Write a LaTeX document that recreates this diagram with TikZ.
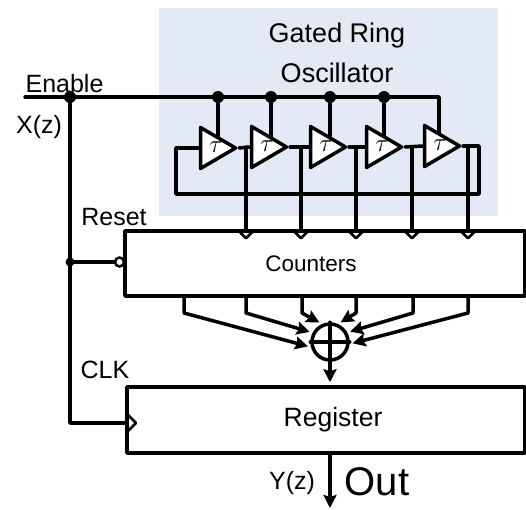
\documentclass[tikz,border=0pt]{standalone}
\usepackage{fontspec}
\setmainfont{Liberation Sans}
\usetikzlibrary{arrows.meta, backgrounds, positioning, shapes.geometric}
\definecolor{ringblue}{RGB}{228,234,245}
\tikzset{
    wire/.style={line width=3.5pt, line cap=round, line join=round},
    feed/.style={wire, -{Stealth[length=13pt,width=13pt,inset=2pt]}, shorten >=3pt},
    dotnode/.style={circle, fill=black, inner sep=0pt, minimum size=#1},
    dotnode/.default={12pt},
    delaycell/.style={draw, wire, fill=white, isosceles triangle, isosceles triangle apex angle=60,
        isosceles triangle stretches, minimum width=41pt, minimum height=35pt, inner sep=0pt, anchor=apex},
    blockbox/.style={draw, wire, line cap=butt, minimum height=#1, inner sep=0pt},
    lbl/.style={font=\fontsize{25}{27}\selectfont, inner sep=0pt}
}
\begin{document}
\begin{tikzpicture}[x=1pt, y=-1pt]
    \useasboundingbox (0,0) rectangle (526,509);
    % blocks
    \node[blockbox=65pt, minimum width=400pt] (counters) at (325,263.5) {};
    \node[blockbox=66pt, minimum width=398pt] (register) at (326,420) {};
    \node[lbl, font=\fontsize{22.5}{24}\selectfont] (countlabel) at (311,264) {Counters};
    \node[lbl, font=\fontsize{26.5}{28}\selectfont] (reglabel) at (333,420) {Register};
    \node[draw, wire, circle, minimum size=36pt, inner sep=0pt] (sum) at (330,342) {};
    % delay cells
    \node[delaycell] (d1) at (239,148) {};
    \node[delaycell] (d2) at (290,147) {};
    \node[delaycell] (d3) at (349,147) {};
    \node[delaycell] (d4) at (405,147) {};
    \node[delaycell] (d5) at (463,146) {};
    \foreach \i/\x/\y in {1/216/147,2/267/146,3/326/146,4/382/146,5/440/145}{
        \node[font=\fontsize{38}{40}\selectfont, inner sep=0pt] (t\i) at (\x,\y) {$\tau$};
    }
    % enable rail
    \coordinate (enstart) at (25,97);
    \coordinate (enend) at (439,97);
    \node[dotnode] (en0) at (70,97) {};
    \node[dotnode] (en1) at (218,97) {};
    \node[dotnode] (en2) at (271,97) {};
    \node[dotnode] (en3) at (330,97) {};
    \node[dotnode] (en4) at (384,97) {};
    \node[dotnode=9pt] (rstdot) at (70,262) {};
    \node[draw, line width=2.5pt, fill=white, circle, minimum size=9pt, inner sep=0pt] (rstinv) at (119.5,262) {};
    \coordinate (clkin) at (70,423);
    \coordinate (outa) at (176,194);
    \coordinate (outb) at (479,194);
    \begin{scope}[on background layer]
    \fill[ringblue] (159,8) rectangle (498,216);
    \draw[wire] (enstart) -- (enend) -- (enend |- d5.apex);
    \foreach \i in {1,...,4}{
        \draw[wire] (en\i) -- (en\i |- d\i.apex);
    }
    \draw[wire] (d5.apex) -| (outb) -- (outa) |- (d1.lower side);
    \draw[wire] (d1.apex) -- (d2.lower side);
    \draw[wire] (d2.apex) -- (d3.lower side);
    \draw[wire] (d3.apex) -- (d4.lower side);
    \draw[wire] (d4.apex) -- (d5.lower side);
    \foreach \i/\x in {1/246,2/301,3/356,4/412,5/468}{
        \coordinate (c\i) at (\x,147);
        \draw[wire] (c\i) -- (c\i |- counters.north);
    }
    \draw[wire] (en0) -- (clkin) -- (clkin -| register.west);
    \draw[wire] (rstdot) -- (rstinv);
    \end{scope}
    % counter inputs
    \foreach \i in {1,...,5}{
        \draw[wire, line width=2.5pt] ([xshift=-8pt,yshift=-1pt]c\i |- counters.north) -- ([yshift=-9pt]c\i |- counters.north) -- ([xshift=8pt,yshift=-1pt]c\i |- counters.north);
    }
    \draw[wire, line width=2.5pt] (127,414) -- (136,423) -- (127,432);
    % adder
    \foreach \x/\a in {184/195,246/152,302/114,356/66,413/29,468/354}{
        \coordinate (u) at (\x,313);
        \draw[feed] (\x,296) -- (u) -- (sum.\a);
    }
    \draw[wire] (sum.north) -- (sum.south);
    \draw[wire] (sum.west) -- (sum.east);
    \draw[feed] (sum.south) -- (sum |- register.north);
    \coordinate (outtip) at (330,508);
    \draw[feed, shorten >=0pt] ([yshift=2pt]register.south -| sum) -- (outtip);
    % labels
    \node[lbl, font=\fontsize{27}{29}\selectfont] (gated) at (337,36) {Gated Ring};
    \node[lbl, font=\fontsize{27}{29}\selectfont] (osc) at (337,73) {Oscillator};
    \node[lbl] (enable) at (64.5,84) {Enable};
    \node[lbl] (xz) at (39,127) {X(z)};
    \node[lbl] (reset) at (114,217) {Reset};
    \node[lbl] (clk) at (105,370) {CLK};
    \node[lbl] (yz) at (292,483) {Y(z)};
    \node[lbl, font=\fontsize{40}{42}\selectfont] (out) at (377,482) {Out};
\end{tikzpicture}
\end{document}
